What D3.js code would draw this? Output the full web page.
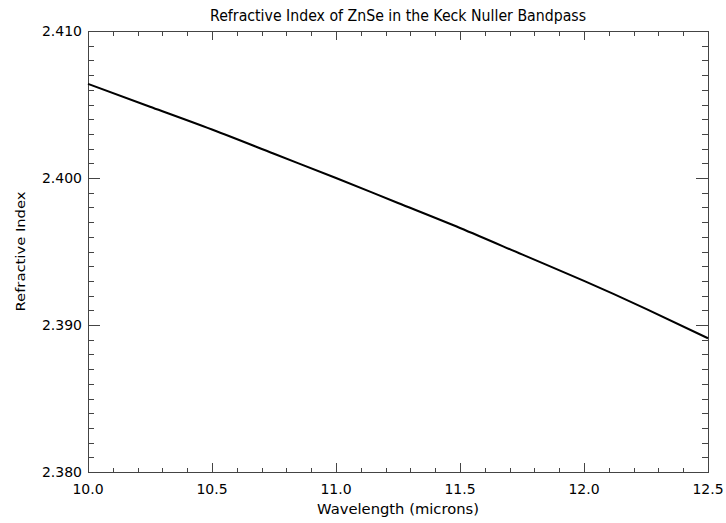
<!DOCTYPE html>
<html>
<head>
<meta charset="utf-8">
<script src="https://cdn.jsdelivr.net/npm/d3@7"></script>
<style>
  body { margin: 0; background: #fff; }
  text { font-family: "DejaVu Sans", sans-serif; fill: #000; }
</style>
</head>
<body>
<div id="chart"></div>
<script>
// values
var wavelength = [10.00, 10.25, 10.50, 10.75, 11.00, 11.25, 11.50, 11.75, 12.00, 12.25, 12.50];
var refIndex = [2.4064, 2.40485, 2.4033, 2.40165, 2.4000, 2.3983, 2.3966, 2.3948, 2.3930, 2.3911, 2.3891];
var xTicks = [10.0, 10.5, 11.0, 11.5, 12.0, 12.5];
var yTicks = [2.380, 2.390, 2.400, 2.410];

var margin = { top: 31, right: 18, bottom: 51, left: 88 },
    width = 726 - margin.left - margin.right,
    height = 523 - margin.top - margin.bottom;

var svg = d3.select("#chart")
    .append("svg")
    .attr("width", 726)
    .attr("height", 523)
    .append("g")
    .attr("transform", "translate(" + margin.left + "," + margin.top + ")");

var x = d3.scaleLinear().domain([10.0, 12.5]).range([0, width]);
var y = d3.scaleLinear().domain([2.380, 2.410]).range([height, 0]);

var axisColor = "#444";

// minor ticks
var xMinor = d3.range(100, 126).map(function (d) { return d / 10; });
var yMinor = d3.range(2380, 2411).map(function (d) { return d / 1000; });

function tickAxis(axis, ticks, len) {
    return axis.tickValues(ticks).tickSizeInner(len).tickSizeOuter(0).tickFormat("");
}

// bottom and top: minor then major
svg.append("g").attr("transform", "translate(0," + height + ")")
    .call(tickAxis(d3.axisTop(x), xMinor, 4.5));
svg.append("g").attr("transform", "translate(0," + height + ")")
    .call(tickAxis(d3.axisTop(x), xTicks, 9));
svg.append("g").call(tickAxis(d3.axisBottom(x), xMinor, 4.5));
svg.append("g").call(tickAxis(d3.axisBottom(x), xTicks, 9));

// left and right
svg.append("g").call(tickAxis(d3.axisRight(y), yMinor, 6));
svg.append("g").call(tickAxis(d3.axisRight(y), yTicks, 12));
svg.append("g").attr("transform", "translate(" + width + ",0)")
    .call(tickAxis(d3.axisLeft(y), yMinor, 6));
svg.append("g").attr("transform", "translate(" + width + ",0)")
    .call(tickAxis(d3.axisLeft(y), yTicks, 12));

svg.selectAll(".domain").remove();
svg.selectAll(".tick line").attr("stroke", axisColor).attr("shape-rendering", "crispEdges");

// frame
svg.append("rect")
    .attr("x", 0).attr("y", 0)
    .attr("width", width).attr("height", height)
    .attr("fill", "none")
    .attr("stroke", axisColor)
    .attr("shape-rendering", "crispEdges");

// tick labels
svg.selectAll(".xlab")
    .data(xTicks)
    .enter().append("text")
    .attr("x", function (d) { return x(d); })
    .attr("y", height + 22)
    .attr("text-anchor", "middle")
    .style("font-size", "14px")
    .text(d3.format(".1f"));

svg.selectAll(".ylab")
    .data(yTicks)
    .enter().append("text")
    .attr("x", -6)
    .attr("y", function (d) { return y(d); })
    .attr("dy", "0.36em")
    .attr("text-anchor", "end")
    .style("font-size", "14px")
    .text(d3.format(".3f"));

// curve
var line = d3.line()
    .x(function (d, i) { return x(wavelength[i]); })
    .y(function (d) { return y(d); })
    .curve(d3.curveNatural);

svg.append("path")
    .datum(refIndex)
    .attr("d", line)
    .attr("fill", "none")
    .attr("stroke", "#000")
    .attr("stroke-width", 2);

// title and axis labels
svg.append("text")
    .attr("x", width / 2)
    .attr("y", -10)
    .attr("text-anchor", "middle")
    .attr("textLength", 376)
    .attr("lengthAdjust", "spacingAndGlyphs")
    .style("font-size", "16px")
    .text("Refractive Index of ZnSe in the Keck Nuller Bandpass");

svg.append("text")
    .attr("x", width / 2)
    .attr("y", height + 42)
    .attr("text-anchor", "middle")
    .attr("textLength", 162)
    .attr("lengthAdjust", "spacingAndGlyphs")
    .style("font-size", "14px")
    .text("Wavelength (microns)");

svg.append("text")
    .attr("transform", "rotate(-90)")
    .attr("x", -height / 2)
    .attr("y", 25 - margin.left)
    .attr("text-anchor", "middle")
    .attr("textLength", 120)
    .attr("lengthAdjust", "spacingAndGlyphs")
    .style("font-size", "13px")
    .text("Refractive Index");
</script>
</body>
</html>
